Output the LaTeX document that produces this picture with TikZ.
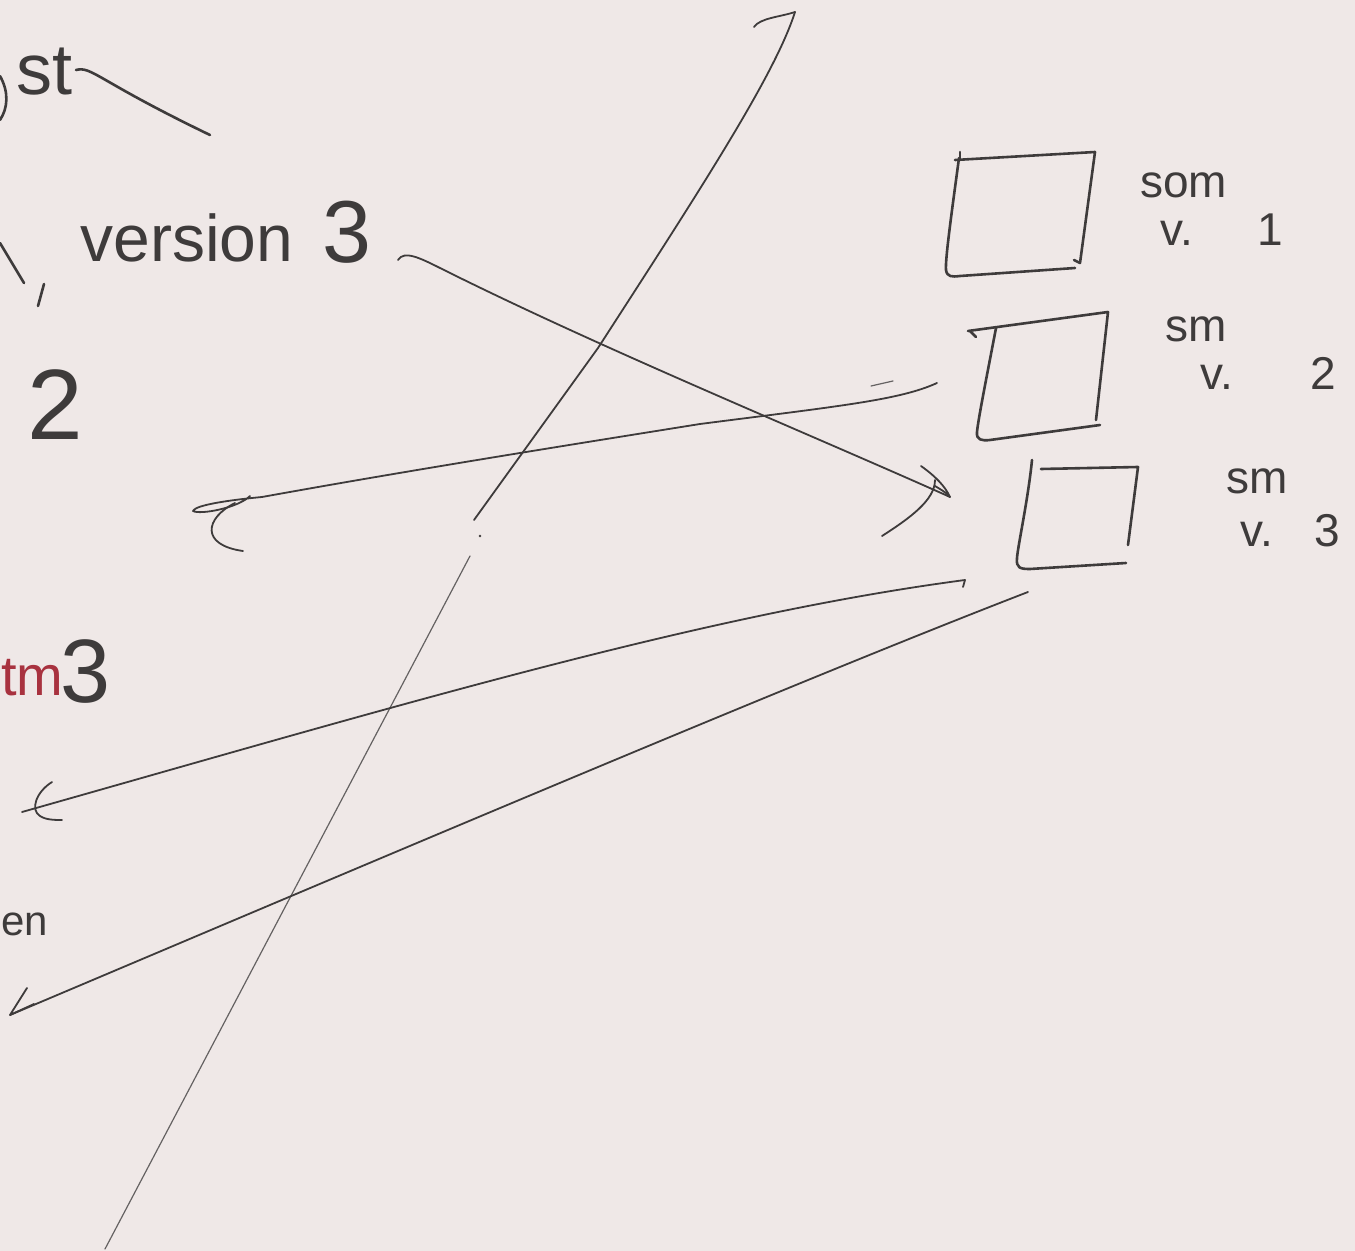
\documentclass[tikz,border=0pt]{standalone}
\usepackage{fontspec}
\setmainfont{Liberation Sans}
\definecolor{bg}{HTML}{EFE8E7}
\definecolor{ink}{HTML}{3E3B3B}
\definecolor{redink}{HTML}{A8323F}
\begin{document}
\begin{tikzpicture}[x=0.5pt,y=-0.5pt,
  conn/.style={draw=ink,line width=0.9pt,line cap=round,line join=round},
  faint/.style={draw=ink!80,line width=0.6pt,line cap=round},
  pen/.style={draw=ink,line width=1.3pt,line cap=round,line join=round},
  hand/.style={text=ink,inner sep=0pt,font=\fontsize{#1}{#1}\selectfont},
  hand/.default=25]
\fill[bg] (0,0) rectangle (1355,1251);
\useasboundingbox (0,0) rectangle (1355,1251);

% ---- left texts ----
\node[hand=36,anchor=base west] (tst) at (16,95) {st};
\coordinate (tailA) at (76,70);
\coordinate (tailB) at (210,135);
\draw[pen] (tailA) .. controls (92,66) and (96,80) .. (tailB);
\draw[pen] (0,76) .. controls (9,92) and (8,108) .. (0,120);
\draw[pen] (0,243) -- (24,283);
\draw[pen] (44,284) -- (38,306);
\node[hand=33,anchor=base west] (ver) at (80,262) {version};
\node[hand=44] (v3) at (347,232) {3};
\node[hand=50] (two) at (55,405) {2};
\node[hand=28,anchor=base west,text=redink] (tm) at (1,695) {tm};
\node[hand=45] (r3) at (86,672) {3};
\node[hand=21,anchor=base west] (en) at (1,935) {en};

% ---- boxes ----
\draw[pen] (960,152) -- (960,160);
\draw[pen] (955,160) -- (1095,152) -- (1080,263) -- (1074,260);
\draw[pen] (959,158) .. controls (952,210) and (945,260) .. (946,270)
  .. controls (947,277) and (952,277) .. (960,276) -- (1075,268);
\draw[pen] (968,331) -- (1108,312) -- (1096,420);
\draw[pen] (970,331) -- (976,337);
\draw[pen] (996,328) .. controls (988,370) and (978,420) .. (977,432)
  .. controls (976,440) and (982,441) .. (990,440) -- (1100,425);
\draw[pen] (1032,460) .. controls (1028,500) and (1018,545) .. (1017,558)
  .. controls (1016,568) and (1020,569) .. (1030,569) -- (1126,563);
\draw[pen] (1041,469) -- (1138,467) -- (1128,545);

% ---- box labels ----
\node[hand=23,anchor=base west] (l1a) at (1140,198) {som};
\node[hand=23,anchor=base west] (l1b) at (1160,246) {v.\hspace{1.4em}1};
\node[hand=23,anchor=base west] (l2a) at (1165,342) {sm};
\node[hand=23,anchor=base west] (l2b) at (1200,390) {v.\hspace{1.7em}2};
\node[hand=23,anchor=base west] (l3a) at (1226,494) {sm};
\node[hand=23,anchor=base west] (l3b) at (1240,546) {v.\hspace{0.9em}3};

% ---- long slanted line ----
\coordinate (lt) at (795,12);
\coordinate (lm) at (474,520);
\coordinate (lb) at (105,1249);
\draw[conn] (754,27) .. controls (760,18) and (780,17) .. (lt);
\draw[conn] (lt) .. controls (775,75) and (700,190) .. (598,348) -- (lm);
\fill[ink] (480,536) circle (0.7pt);
\draw[faint] (470,556) -- (lb);

% ---- arrow A: version 3 -> box 3 ----
\coordinate (aS) at (398,260);
\coordinate (aE) at (950,497);
\draw[conn] (aS) .. controls (404,250) and (420,258) .. (440,268)
  .. controls (600,348) and (800,430) .. (aE);
\draw[conn] (921,466) .. controls (935,476) and (945,486) .. (950,497)
  .. controls (946,492) and (938,488) .. (935,486);
\draw[conn] (935,480) .. controls (935,500) and (910,518) .. (882,536);

% ---- arrow B: box 2 -> left ----
\coordinate (bS) at (937,383);
\coordinate (bE) at (262,497);
\draw[conn] (bS) .. controls (900,400) and (840,406) .. (700,424)
  .. controls (550,448) and (400,472) .. (bE);
\draw[conn] (bE) .. controls (230,500) and (195,505) .. (193,511)
  .. controls (200,515) and (238,508) .. (250,496);
\draw[conn] (235,503) .. controls (205,518) and (200,545) .. (243,551);
\draw[faint] (871,386) -- (893,381);

% ---- arrow C: box 3 -> left ----
\coordinate (cS) at (965,580);
\coordinate (cE) at (22,812);
\draw[conn] (963,587) -- (cS) .. controls (700,615) and (400,705) .. (cE);
\draw[conn] (52,782) .. controls (36,792) and (30,810) .. (40,816) .. controls (46,820) and (55,820) .. (62,820);

% ---- arrow D: box 3 -> bottom left ----
\coordinate (dS) at (1028,592);
\coordinate (dE) at (10,1015);
\draw[conn] (dS) .. controls (800,680) and (400,850) .. (dE);
\draw[conn] (27,988) -- (dE) -- (34,1004);
\end{tikzpicture}
\end{document}
